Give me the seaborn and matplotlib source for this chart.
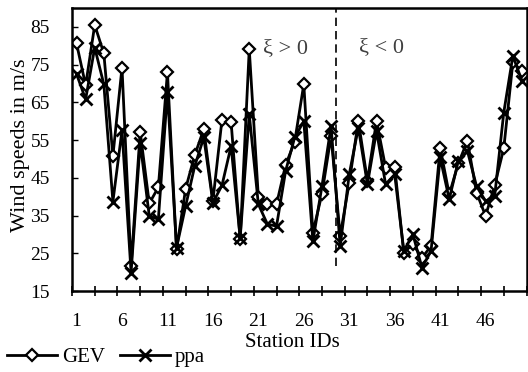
import numpy as np
import pandas as pd
import seaborn as sns
import matplotlib
matplotlib.use("Agg")
import matplotlib.pyplot as plt
from matplotlib.ticker import FixedLocator

# values
stations = list(range(1, 51))
gev = [80.6, 69.5, 85.5, 78.0, 50.8, 74.2, 21.6, 57.2, 38.2, 42.5,
       73.0, 26.0, 42.1, 51.0, 57.9, 38.9, 60.4, 59.9, 28.7, 79.1,
       39.9, 38.0, 38.0, 48.4, 54.6, 69.8, 30.5, 40.8, 56.1, 29.6,
       43.7, 60.1, 44.2, 60.1, 47.7, 47.9, 25.2, 27.4, 23.8, 26.9,
       53.0, 40.6, 48.8, 54.8, 41.1, 34.9, 43.0, 52.8, 75.6, 73.3]
ppa = [72.5, 65.8, 79.5, 69.8, 38.7, 57.6, 19.9, 54.3, 34.9, 34.0,
       67.7, 26.5, 37.5, 48.1, 55.7, 38.4, 43.0, 53.4, 29.1, 61.8,
       38.0, 32.7, 32.2, 46.8, 55.7, 60.0, 28.2, 42.8, 58.7, 26.9,
       45.9, 58.3, 43.3, 57.4, 43.3, 45.9, 25.6, 30.0, 21.2, 25.6,
       50.4, 39.3, 49.5, 52.1, 42.8, 38.8, 40.2, 62.3, 77.3, 70.7]
xtick_labels = [1, 6, 11, 16, 21, 26, 31, 36, 41, 46]
yticks = [15, 25, 35, 45, 55, 65, 75, 85]

plt.rcParams['font.family'] = ['Liberation Serif', 'DejaVu Serif']
plt.rcParams['font.size'] = 14

fig = plt.figure(figsize=(5.28, 3.72), dpi=100)
ax = fig.add_axes([72 / 528, 81 / 372, 454.5 / 528, 283 / 372])

sns.lineplot(x=stations, y=gev, ax=ax, color='black', linewidth=2,
             marker='D', markersize=6.5, markerfacecolor='white',
             markeredgecolor='black', markeredgewidth=1.6, label='GEV')
sns.lineplot(x=stations, y=ppa, ax=ax, color='black', linewidth=2,
             marker='x', markersize=8.5, markeredgecolor='black',
             markeredgewidth=2, label='ppa')

ax.axvline(29.5, ymin=0.09, ymax=1, color='black', linewidth=1.2,
           linestyle=(0, (5, 3)))
ax.text(24.0, 79.2, 'ξ > 0', ha='center', va='center', fontsize=16, color='#404040')
ax.text(34.5, 79.6, 'ξ < 0', ha='center', va='center', fontsize=16, color='#404040')

ax.set_xlim(0.5, 50.5)
ax.set_ylim(15, 90)
ax.set_xticks(xtick_labels)
ax.set_xticklabels([str(v) for v in xtick_labels])
ax.xaxis.set_minor_locator(FixedLocator(np.arange(0.5, 51, 2.5)))
ax.tick_params(axis='x', which='major', length=0, pad=16, labelsize=14)
ax.tick_params(axis='x', which='minor', direction='inout', length=7, width=1.2)
ax.set_yticks(yticks)
ax.tick_params(axis='y', direction='in', length=4, width=1, pad=16, labelsize=14)

for sp in ax.spines.values():
    sp.set_linewidth(1.8)
    sp.set_color('black')

ax.set_xlabel('Station IDs', fontsize=15)
ax.xaxis.set_label_coords(0.484, -0.148)
ax.set_ylabel('Wind speeds in m/s', fontsize=16)
ax.yaxis.set_label_coords(-0.092, 0.516)

handles, labels = ax.get_legend_handles_labels()
ax.get_legend().remove()
fig.legend(handles, labels, loc='center left', bbox_to_anchor=(0.013, 0.040),
           ncol=2, frameon=False, borderpad=0, borderaxespad=0,
           handlelength=2.4, handletextpad=0.25, columnspacing=0.7, fontsize=15)

fig.savefig('out.png', dpi=100)
